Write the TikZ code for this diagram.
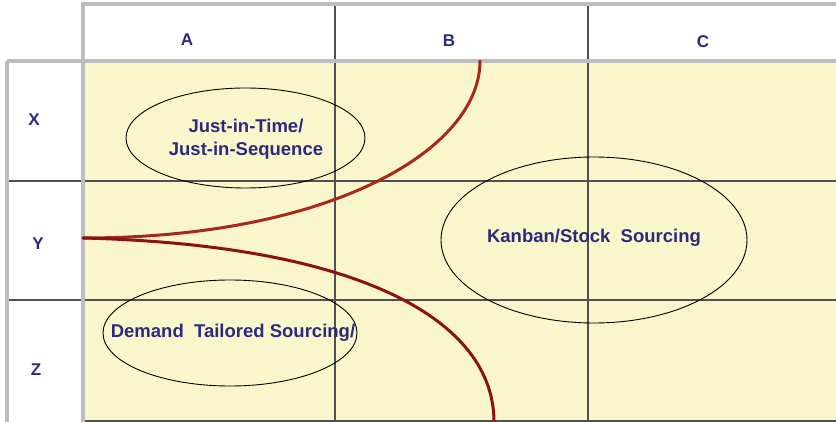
\documentclass[tikz,border=0pt]{standalone}
\usepackage{fontspec}
\setmainfont{Liberation Sans}
\usetikzlibrary{shapes.geometric}
\definecolor{cellfill}{HTML}{FAF6CB}
\definecolor{frame}{HTML}{BDBDBD}
\definecolor{gridline}{HTML}{505050}
\definecolor{labelblue}{HTML}{2C2A7E}
\definecolor{curveA}{HTML}{A8281C}
\definecolor{curveB}{HTML}{8C1212}
\begin{document}
\begin{tikzpicture}[x=1pt,y=-1pt,
  framebox/.style={draw=frame,line width=3.2pt},
  grid/.style={draw=gridline,line width=1.1pt},
  axislabel/.style={font=\bfseries\fontsize{17}{20}\selectfont,text=labelblue},
  region/.style={ellipse,draw=black,line width=0.9pt,inner sep=0pt},
  regiontext/.style={align=center,text=labelblue,inner sep=0pt,
    font=\bfseries\fontsize{18.5}{23}\selectfont},
  boundary/.style={line width=3pt,line cap=round}]
\useasboundingbox (0,0) rectangle (836,422);
\fill[white] (0,0) rectangle (836,422);
% matrix body
\fill[cellfill] (83,61) rectangle (836,422);
% inner grid of the body
\draw[grid] (335,61) -- (335,422);
\draw[grid] (588,61) -- (588,422);
\draw[grid] (83,181) -- (836,181);
\draw[grid] (83,300) -- (836,300);
\draw[grid] (83,421) -- (836,421);
% header row and row-label column
\draw[grid] (335,4) -- (335,61);
\draw[grid] (588,4) -- (588,61);
\draw[grid] (7,181) -- (83,181);
\draw[grid] (7,300) -- (83,300);
\draw[framebox] (83,61) -- (83,4) -- (840,4);
\draw[framebox] (7,61) -- (840,61);
\draw[framebox] (7,426) -- (7,61);
\draw[framebox] (83,61) -- (83,426);
% column and row headings
\node[axislabel] (colA) at (187,40) {A};
\node[axislabel] (colB) at (449,41) {B};
\node[axislabel] (colC) at (703,42) {C};
\node[axislabel] (rowX) at (34,120) {X};
\node[axislabel] (rowY) at (38,244) {Y};
\node[axislabel] (rowZ) at (36,370) {Z};
% sourcing regions
\node[region,minimum width=239pt,minimum height=100pt] (jit) at (245.5,138) {};
\node[regiontext] (jit-text) at (246,139) {Just-in-Time/\\Just-in-Sequence};
\node[region,minimum width=306pt,minimum height=166pt] (kanban) at (594,240) {};
\node[regiontext] (kanban-text) at (594,238) {Kanban/Stock\ \ Sourcing};
\node[region,minimum width=254pt,minimum height=106pt] (demand) at (230,333) {};
\node[regiontext] (demand-text) at (233,333) {Demand\ \ Tailored Sourcing/};
% boundary curves
\coordinate (fork) at (83,238);
\coordinate (topend) at (480,61);
\coordinate (bottomend) at (494,422);
\draw[boundary,draw=curveA] (fork) .. controls (330,238) and (480,150) .. (topend);
\draw[boundary,draw=curveB] (fork) .. controls (360,245) and (494,320) .. (bottomend);
\end{tikzpicture}
\end{document}
